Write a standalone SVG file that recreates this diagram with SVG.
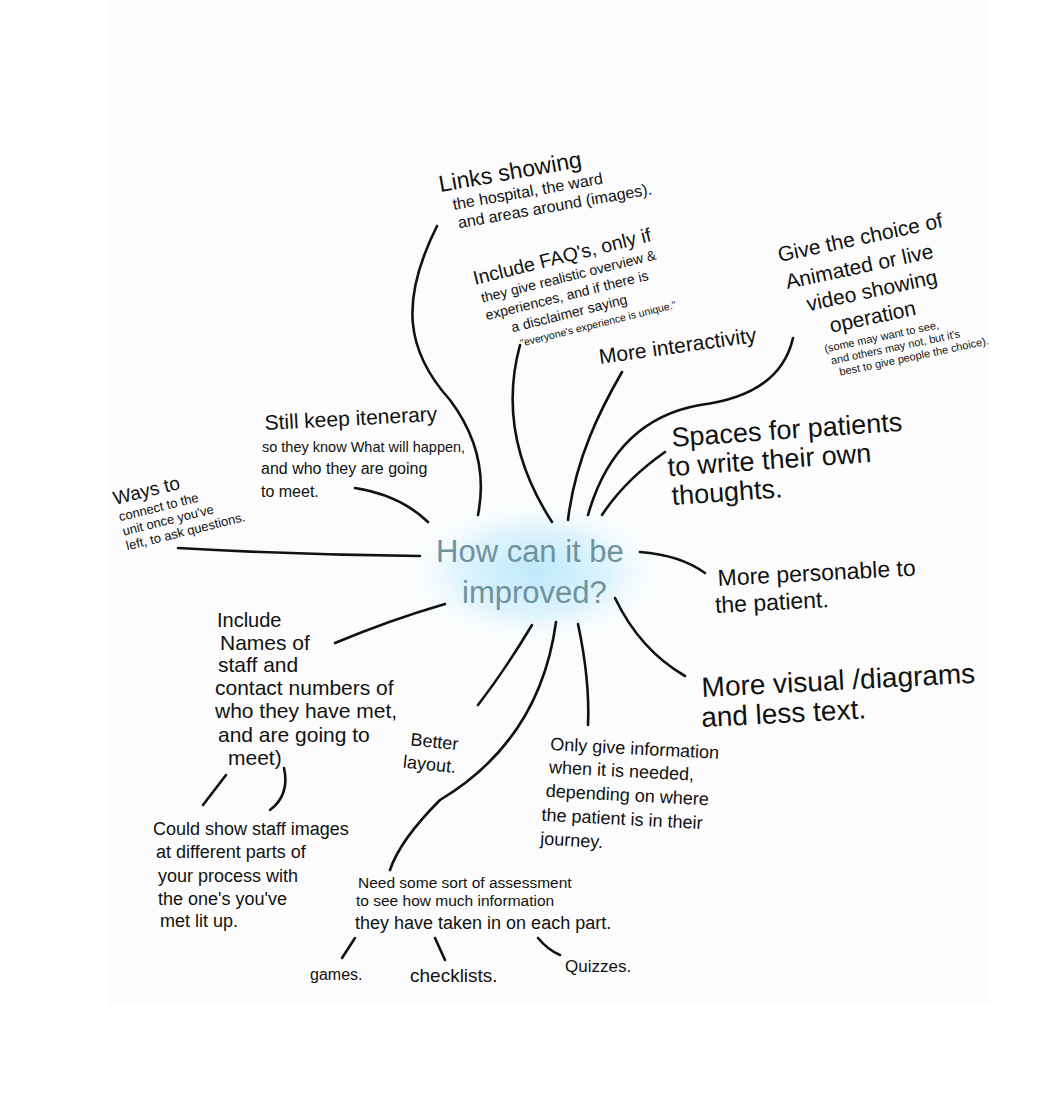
<svg xmlns="http://www.w3.org/2000/svg" width="1064" height="1118" viewBox="0 0 1064 1118">
<defs>
<radialGradient id="glow" cx="50%" cy="50%" r="50%">
<stop offset="0%" stop-color="#bfe9fb"/>
<stop offset="55%" stop-color="#dff4fd"/>
<stop offset="100%" stop-color="#ffffff" stop-opacity="0"/>
</radialGradient>
<style>
.ln{fill:none;stroke:#111;stroke-width:2.6;stroke-linecap:round}
text{font-family:"Liberation Sans","DejaVu Sans",sans-serif;fill:#111}
.c{fill:#6f929c;font-size:31px}
</style>
</defs>
<rect width="1064" height="1118" fill="#ffffff"/>
<rect x="108" y="0" width="882" height="1005" fill="#fcfcfc"/>
<ellipse cx="535" cy="572" rx="140" ry="78" fill="url(#glow)"/>

<g id="connectors">
<path class="ln" d="M437,226 C400,300 405,350 450,400 C480,440 485,480 478,515"/>
<path class="ln" d="M520,345 C505,400 512,460 552,522"/>
<path class="ln" d="M622,372 C600,410 575,460 568,520"/>
<path class="ln" d="M793,338 Q780,395 700,405 Q615,420 588,515"/>
<path class="ln" d="M665,452 Q625,480 602,515"/>
<path class="ln" d="M355,488 Q400,495 428,522"/>
<path class="ln" d="M178,548 Q300,555 420,556"/>
<path class="ln" d="M335,643 Q390,620 445,604"/>
<path class="ln" d="M640,552 Q680,555 705,573"/>
<path class="ln" d="M615,598 Q640,650 685,676"/>
<path class="ln" d="M532,625 Q505,670 478,705"/>
<path class="ln" d="M556,622 Q540,740 440,800 Q400,840 390,870"/>
<path class="ln" d="M578,624 Q590,680 588,725"/>
<path class="ln" d="M226,775 L203,805"/>
<path class="ln" d="M284,768 Q290,795 270,810"/>
<path class="ln" d="M355,938 L342,958"/>
<path class="ln" d="M435,938 L445,960"/>
<path class="ln" d="M538,938 Q548,950 560,955"/>
</g>

<g id="center">
<text class="c" x="436" y="562">How can it be</text>
<text class="c" x="462" y="603">improved?</text>
</g>

<g id="links" transform="rotate(-10 440 190)">
<text x="440" y="192" font-size="23">Links showing</text>
<text x="450" y="212" font-size="16">the hospital, the ward</text>
<text x="452" y="231" font-size="16">and areas around (images).</text>
</g>

<g id="faq" transform="rotate(-14 475 285)">
<text x="475" y="285" font-size="19.5">Include FAQ's, only if</text>
<text x="478" y="304" font-size="14">they give realistic overview &amp;</text>
<text x="478" y="322" font-size="14">experiences, and if there is</text>
<text x="500" y="340" font-size="14">a disclaimer saying</text>
<text x="505" y="356" font-size="10.5">"everyone's experience is unique."</text>
</g>

<g id="interactivity">
<text x="600" y="364" font-size="21" transform="rotate(-8 600 364)">More interactivity</text>
</g>

<g id="choice" transform="rotate(-12 780 265)">
<text x="780" y="262" font-size="21">Give the choice of</text>
<text x="782" y="290" font-size="21">Animated or live</text>
<text x="798" y="316" font-size="21">video showing</text>
<text x="816" y="342" font-size="21">operation</text>
<text x="806" y="360" font-size="11">(some may want to see,</text>
<text x="810" y="373" font-size="11">and others may not, but it's</text>
<text x="816" y="386" font-size="11">best to give people the choice).</text>
</g>

<g id="itinerary">
<text x="265" y="430" font-size="21" transform="rotate(-3 265 430)">Still keep itenerary</text>
<text x="262" y="452" font-size="14.5">so they know What will happen,</text>
<text x="261" y="474" font-size="16">and who they are going</text>
<text x="261" y="497" font-size="16">to meet.</text>
</g>

<g id="ways" transform="rotate(-14 115 505)">
<text x="115" y="505" font-size="19">Ways to</text>
<text x="116" y="522" font-size="13">connect to the</text>
<text x="116" y="537" font-size="13">unit once you've</text>
<text x="116" y="552" font-size="13">left, to ask questions.</text>
</g>

<g id="spaces" transform="rotate(-4 670 445)">
<text x="672" y="447" font-size="27">Spaces for patients</text>
<text x="666" y="476" font-size="27">to write their own</text>
<text x="668" y="505" font-size="27">thoughts.</text>
</g>

<g id="personable" transform="rotate(-3 716 585)">
<text x="718" y="586" font-size="23">More personable to</text>
<text x="714" y="613" font-size="23">the patient.</text>
</g>

<g id="visual" transform="rotate(-3 702 695)">
<text x="702" y="697" font-size="28">More visual /diagrams</text>
<text x="700" y="727" font-size="28">and less text.</text>
</g>

<g id="names">
<text x="217" y="627" font-size="20">Include</text>
<text x="220" y="650" font-size="21">Names of</text>
<text x="218" y="672" font-size="21">staff and</text>
<text x="215" y="695" font-size="21">contact numbers of</text>
<text x="215" y="718" font-size="21">who they have met,</text>
<text x="218" y="742" font-size="21">and are going to</text>
<text x="228" y="765" font-size="21">meet)</text>
</g>

<g id="layout" transform="rotate(6 408 745)">
<text x="410" y="745" font-size="18">Better</text>
<text x="405" y="768" font-size="18">layout.</text>
</g>

<g id="only" transform="rotate(3 550 750)">
<text x="550" y="750" font-size="18">Only give information</text>
<text x="550" y="773" font-size="18">when it is needed,</text>
<text x="548" y="797" font-size="18">depending on where</text>
<text x="545" y="821" font-size="18">the patient is in their</text>
<text x="545" y="845" font-size="18">journey.</text>
</g>

<g id="staffimages">
<text x="153" y="835" font-size="18">Could show staff images</text>
<text x="156" y="858" font-size="18">at different parts of</text>
<text x="158" y="882" font-size="18">your process with</text>
<text x="158" y="905" font-size="18">the one's you've</text>
<text x="160" y="927" font-size="18">met lit up.</text>
</g>

<g id="assessment">
<text x="358" y="888" font-size="15.5">Need some sort of assessment</text>
<text x="356" y="906" font-size="15.5">to see how much information</text>
<text x="355" y="929" font-size="18">they have taken in on each part.</text>
</g>

<g id="games"><text x="310" y="980" font-size="16">games.</text></g>
<g id="checklists"><text x="410" y="982" font-size="19">checklists.</text></g>
<g id="quizzes"><text x="565" y="972" font-size="17">Quizzes.</text></g>
</svg>
